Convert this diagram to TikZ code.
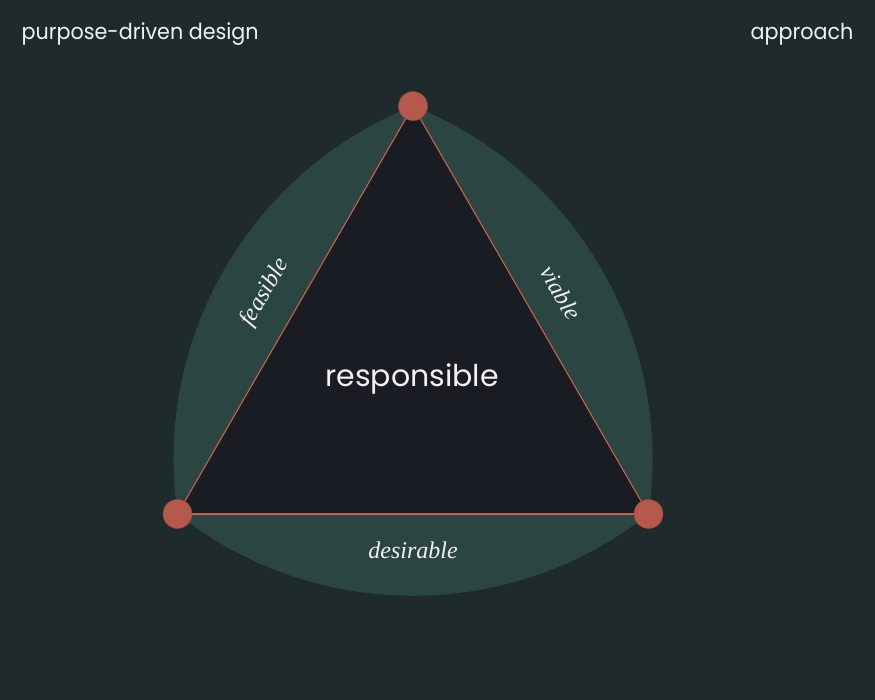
\documentclass[tikz,border=0pt]{standalone}
\usepackage{fontspec}
\usepackage{xcolor}
\usepackage{tikz}
\usetikzlibrary{calc,positioning}
\newfontfamily\headfont{Poppins}
\newfontfamily\labelfont{Liberation Serif}
\definecolor{bgdark}{RGB}{30, 42, 43}
\definecolor{bandgreen}{RGB}{43, 69, 66}
\definecolor{coreblack}{RGB}{26, 28, 35}
\definecolor{dotred}{RGB}{180, 89, 75}
\definecolor{linered}{RGB}{200, 96, 79}
\definecolor{textwhite}{RGB}{242, 242, 242}

\begin{document}
\begin{tikzpicture}[
    x=1pt, y=1pt,
    % Node and line styles
    heading/.style={text=textwhite, inner sep=0pt, xscale=0.94, font=\headfont\fontsize{22}{26}\selectfont},
    core/.style={text=textwhite, inner sep=0pt, font=\headfont\fontsize{30}{36}\selectfont},
    quality/.style={text=textwhite, inner sep=0pt, font=\labelfont\itshape\fontsize{24}{28}\selectfont},
    vertex/.style={circle, fill=dotred, draw=dotred!80!black, line width=0.5pt, minimum size=29pt, inner sep=0pt},
    side/.style={draw=linered, line width=1.1pt},
    band/.style={fill=bandgreen}
]

% Background
\fill [bgdark] (0,0) rectangle (875,700);

% Corners of the triangle
\coordinate (L) at (177.5,186);
\coordinate (R) at (648.5,186);
\coordinate (T) at (413,593.9);

% Curved outer band
\fill [band] (L) arc [start angle=231.7, end angle=308.3, radius=380]
                 arc [start angle=-8.3, end angle=68.3, radius=380]
                 arc [start angle=111.7, end angle=188.3, radius=380] -- cycle;

% Inner triangle
\fill [coreblack] (L) -- (R) -- (T) -- cycle;
\draw [side] (L) -- (R);
\draw [side] (R) -- (T);
\draw [side] (T) -- (L);

% Corner dots
\node [vertex] (left) at (L) {};
\node [vertex] (right) at (R) {};
\node [vertex] (top) at (T) {};

% Titles
\node [heading, anchor=base west] (title) at (21.5,660.7) {purpose-driven design};
\node [heading, anchor=base east] (approach) at (853.5,660.7) {approach};
\node [core, anchor=base] (responsible) at (412,313) {responsible};

% Side labels
\node [quality, rotate=60] (feasible) at ($(L)!0.5!(T)+(150:35)$) {feasible};
\node [quality, rotate=-60] (viable) at ($(T)!0.5!(R)+(30:35)$) {viable};
\node [quality] (desirable) at ($(L)!0.5!(R)+(270:36)$) {desirable};

\end{tikzpicture}
\end{document}
